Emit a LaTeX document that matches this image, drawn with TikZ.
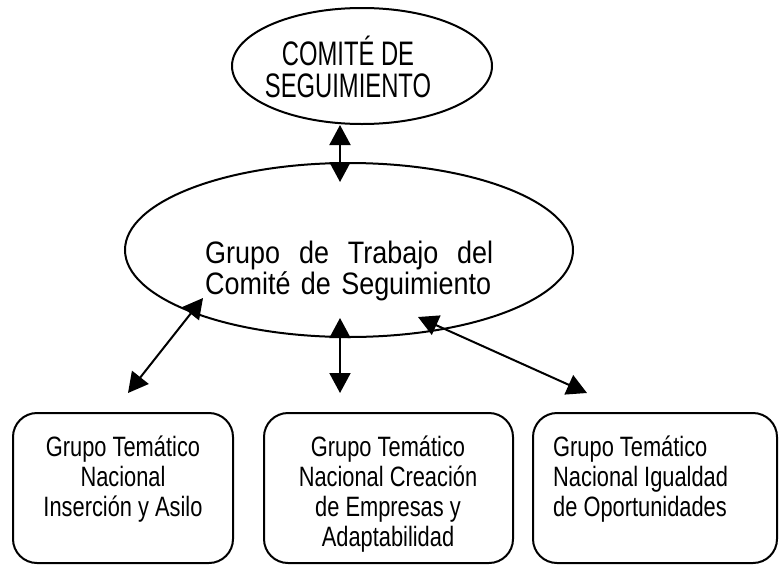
\documentclass[tikz,border=0pt]{standalone}
\usepackage{fontspec}
\setmainfont[FakeStretch=0.82]{Liberation Sans}
\newfontfamily\topfam[FakeStretch=0.70]{Liberation Sans}
\newfontfamily\midfam[FakeStretch=0.87]{Liberation Sans}
\newfontfamily\boxfam[FakeStretch=0.78]{Liberation Sans}
\usetikzlibrary{shapes.geometric,arrows.meta}
\begin{document}
\begin{tikzpicture}[x=1pt,y=-1pt,
  shapeline/.style={draw=black, line width=2pt},
  conn/.style={line width=2pt, {Triangle[length=20pt,width=21pt]}-{Triangle[length=20pt,width=21pt]}},
  box/.style={shapeline, rounded corners=24pt, minimum height=150pt, inner sep=0pt},
  topfont/.style={font=\topfam\fontsize{34}{32}\selectfont},
  midfont/.style={font=\midfam\fontsize{31}{31.5}\selectfont},
  boxfont/.style={font=\boxfam\fontsize{28}{30}\selectfont},
]
\useasboundingbox (0,0) rectangle (781,565);
% ellipses
\node[ellipse, shapeline, minimum width=260pt, minimum height=116pt, inner sep=0pt] (top) at (362,66) {};
\node[anchor=base, align=center, inner sep=0pt, topfont] (toptext) at (348,97) {COMITÉ DE\\SEGUIMIENTO};
\node[ellipse, shapeline, minimum width=448pt, minimum height=174pt, inner sep=0pt] (mid) at (349,250) {};
\node[anchor=base west, text width=288pt, align=left, inner sep=0pt, midfont] (midtext) at (205,263)
  {Grupo\hfill de\hfill Trabajo\hfill del\\Comité de Seguimiento};
% boxes
\node[box, minimum width=220pt] (b1) at (123,488) {};
\node[box, minimum width=249pt] (b2) at (388.5,488) {};
\node[box, minimum width=244pt] (b3) at (655,488) {};
\node[anchor=base, align=center, inner sep=0pt, boxfont] (t1) at (123,516)
  {Grupo Temático\\Nacional\\Inserción y Asilo};
\node[anchor=base, align=center, inner sep=0pt, boxfont] (t2) at (388,546)
  {Grupo Temático\\Nacional Creación\\de Empresas y\\Adaptabilidad};
\node[anchor=base west, align=left, inner sep=0pt, boxfont] (t3) at (553,516)
  {Grupo Temático\\Nacional Igualdad\\de Oportunidades};
% connector end points
\coordinate (c1a) at (340,125);
\coordinate (c1b) at (340,182);
\coordinate (c2a) at (203,298);
\coordinate (c2b) at (128,393);
\coordinate (c3a) at (340,318);
\coordinate (c3b) at (340,393);
\coordinate (c4a) at (418,317);
\coordinate (c4b) at (587,393);
\draw[conn] (c1a) -- (c1b);
\draw[conn] (c2a) -- (c2b);
\draw[conn] (c3a) -- (c3b);
\draw[conn] (c4a) -- (c4b);
\end{tikzpicture}
\end{document}
